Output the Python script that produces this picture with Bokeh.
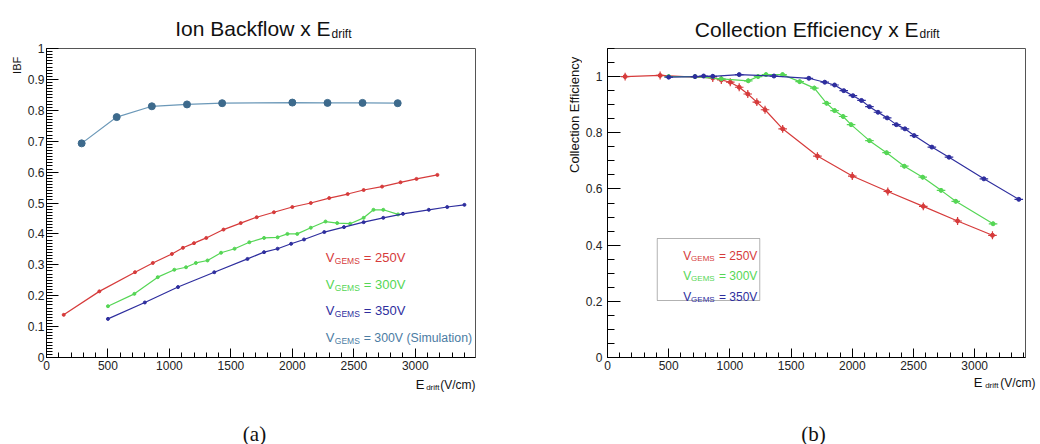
import math
from bokeh.plotting import figure
from bokeh.models import (Range1d, FixedTicker, Label, BoxAnnotation, ColumnDataSource,
                          CustomJSTickFormatter)
from bokeh.core.properties import value
from bokeh.layouts import row, column
from bokeh.embed import file_html
from bokeh.resources import INLINE

# ---------------- data: Ion Backflow (a) ----------------
ibf_250_x = [140, 430, 720, 865, 1020, 1110, 1200, 1300, 1440, 1580, 1710, 1850, 2000,
             2150, 2300, 2450, 2580, 2730, 2880, 3010, 3180]
ibf_250_y = [0.138, 0.214, 0.276, 0.306, 0.335, 0.355, 0.370, 0.387, 0.414, 0.435, 0.454,
             0.470, 0.487, 0.500, 0.516, 0.529, 0.542, 0.553, 0.567, 0.578, 0.591]
ibf_300_x = [500, 715, 905, 1040, 1135, 1215, 1310, 1420, 1530, 1650, 1770, 1880, 1960,
             2040, 2150, 2270, 2365, 2470, 2580, 2660, 2740, 2860]
ibf_300_y = [0.166, 0.206, 0.260, 0.284, 0.292, 0.306, 0.314, 0.339, 0.352, 0.373, 0.387,
             0.389, 0.400, 0.400, 0.420, 0.440, 0.435, 0.433, 0.452, 0.478, 0.478, 0.463]
ibf_350_x = [500, 800, 1070, 1365, 1635, 1770, 1880, 1990, 2095, 2260, 2420, 2580, 2740,
             2900, 3110, 3260, 3400]
ibf_350_y = [0.125, 0.178, 0.228, 0.276, 0.319, 0.341, 0.352, 0.368, 0.382, 0.406, 0.422,
             0.438, 0.452, 0.465, 0.478, 0.487, 0.494]
sim_x = [286, 571, 857, 1143, 1429, 2000, 2286, 2571, 2857]
sim_y = [0.693, 0.778, 0.813, 0.819, 0.823, 0.825, 0.824, 0.824, 0.823]

# ---------------- data: Collection Efficiency (b) ----------------
ce_250_x = [144, 430, 860, 930, 1003, 1076, 1146, 1220, 1287, 1431, 1715, 2000, 2290,
            2580, 2860, 3145]
ce_250_y = [1.000, 1.004, 0.995, 0.988, 0.980, 0.962, 0.938, 0.909, 0.882, 0.814, 0.717,
            0.646, 0.591, 0.538, 0.486, 0.435]
ce_300_x = [500, 715, 930, 1150, 1230, 1295, 1430, 1570, 1690, 1790, 1855, 1925, 1990,
            2140, 2280, 2425, 2575, 2725, 2845, 3150]
ce_300_y = [1.000, 1.000, 0.992, 0.985, 1.000, 1.007, 1.007, 0.982, 0.959, 0.905, 0.879,
            0.858, 0.829, 0.772, 0.729, 0.681, 0.642, 0.595, 0.556, 0.476]
ce_350_x = [500, 715, 785, 860, 1076, 1360, 1645, 1775, 1855, 1930, 2005, 2075, 2140,
            2210, 2285, 2360, 2430, 2505, 2650, 2790, 3075, 3360]
ce_350_y = [0.998, 1.000, 1.002, 1.001, 1.007, 1.002, 0.994, 0.980, 0.970, 0.950, 0.932,
            0.915, 0.893, 0.873, 0.853, 0.829, 0.814, 0.790, 0.749, 0.713, 0.636, 0.563]
ce_250_xerr, ce_250_yerr = 35, 0.014
ce_300_xerr, ce_300_yerr = 35, 0.008
ce_350_xerr, ce_350_yerr = 35, 0.006

legend_a = ["= 250V", "= 300V", "= 350V", "= 300V (Simulation)"]
legend_b = ["= 250V", "= 300V", "= 350V"]

RED, GREEN, BLUE, SIM = "#d63b3b", "#55d655", "#2e2e9e", "#4b7ca3"
SANS = "Liberation Sans"
SERIF = "Liberation Serif"

TOP_H, MAIN_H, BOT_H = 40, 335, 69   # 40 + 335 + 69 = 444


def main_fig(width, xmax, ymax, left, right, yticks, yminor, ymaj_len, ymin_len):
    p = figure(width=width, height=MAIN_H, x_range=Range1d(0, xmax),
               y_range=Range1d(0, ymax), output_backend="svg", toolbar_location=None,
               min_border_left=left, min_border_right=right, min_border_top=8,
               min_border_bottom=18)
    p.xgrid.visible = False
    p.ygrid.visible = False
    p.outline_line_color = "#555555"
    p.outline_line_width = 1
    p.background_fill_color = "white"
    p.border_fill_color = "white"
    fmt = CustomJSTickFormatter(code="return Number(tick.toFixed(2)).toString();")
    p.xaxis.ticker = FixedTicker(ticks=list(range(0, 3001, 500)),
                                 minor_ticks=list(range(0, int(xmax) + 1, 100)))
    p.yaxis.ticker = FixedTicker(ticks=yticks, minor_ticks=yminor)
    for ax in (p.xaxis[0], p.yaxis[0]):
        ax.formatter = fmt
        ax.axis_line_color = "black"
        ax.major_tick_line_color = "black"
        ax.minor_tick_line_color = "black"
        ax.major_tick_out = 0
        ax.minor_tick_out = 0
        ax.major_label_text_font = SANS
        ax.major_label_text_font_size = "12px"
        ax.major_label_text_color = "#222222"
    p.xaxis.major_tick_in = 9
    p.xaxis.minor_tick_in = 5
    p.yaxis.major_tick_in = ymaj_len
    p.yaxis.minor_tick_in = ymin_len
    p.xaxis.major_label_standoff = 3
    return p


def strip(w, h, x0, y0):
    """Blank figure whose ranges are page pixels (y downwards)."""
    p = figure(width=w, height=h, x_range=Range1d(x0, x0 + w), y_range=Range1d(y0 + h, y0),
               min_border=0, toolbar_location=None, output_backend="svg",
               x_axis_type=None, y_axis_type=None)
    p.outline_line_color = None
    p.background_fill_color = "white"
    p.border_fill_color = "white"
    return p


def txt(p, x, y, s, size, color="#111111", align="left", baseline="alphabetic",
        angle=0.0, font=SANS):
    p.text(x=[x], y=[y], text=[s], text_font=value(font), text_font_size=f"{size}px",
           text_color=color, text_align=align, text_baseline=baseline, angle=angle)


def lbl(p, x, y, text, size, color="#111111", align="left", baseline="alphabetic"):
    p.add_layout(Label(x=x, y=y, text=text, text_font_size=f"{size}px", text_color=color,
                       text_align=align, text_baseline=baseline, text_font=SANS))


# ================= panel (a) =================
AX_MAX, AY_MAX = 3490, 1.0
pa = main_fig(496, AX_MAX, AY_MAX, 21, 45,
              [round(i * 0.1, 1) for i in range(11)],
              [round(i * 0.01, 2) for i in range(101)], 12, 6)
pa.yaxis.major_label_standoff = 2


def ax_(px):
    return (px - 45) / 430 * AX_MAX


def ay_(py):
    return (357 - py) / 309 * AY_MAX


for xs, ys, c in [(ibf_250_x, ibf_250_y, RED), (ibf_300_x, ibf_300_y, GREEN),
                  (ibf_350_x, ibf_350_y, BLUE)]:
    pa.line(xs, ys, line_color=c, line_width=1.2)
    pa.scatter(xs, ys, size=3, color=c)
pa.line(sim_x, sim_y, line_color="#6b98b8", line_width=1.2)
pa.scatter(sim_x, sim_y, size=7, fill_color="#3d6a8c", line_color="#3d6a8c")

for t, c, r, fs in zip(legend_a, [RED, GREEN, BLUE, SIM], [257, 284, 310, 337],
                       [13, 13, 13, 12.3]):
    lbl(pa, ax_(325), ay_(r), "V", 13, color=c)
    lbl(pa, ax_(334), ay_(r + 3), "GEMS", 8.5, color=c)
    lbl(pa, ax_(363), ay_(r), t, fs, color=c)

ta = strip(520, TOP_H, 0, 0)
txt(ta, 330, 28, "Ion Backflow x E", 21, align="right")
txt(ta, 331, 33, "drift", 12)

ya = strip(24, MAIN_H, 0, TOP_H)
txt(ya, 16, 49, "IBF", 11, align="right", baseline="middle", angle=math.pi / 2)

ba = strip(520, BOT_H, 0, TOP_H + MAIN_H)
txt(ba, 475, 384, "(V/cm)", 12, align="right")
txt(ba, 439, 387, "drift", 8, align="right")
txt(ba, 424, 384, "E", 13, align="right")
txt(ba, 254, 433, "(a)", 21, align="center", font=SERIF)

panel_a = column(ta, row(ya, pa), ba)

# ================= panel (b) =================
BX_MAX, BY_MAX = 3415, 1.1
pb = main_fig(458, BX_MAX, BY_MAX, 23, 15,
              [round(i * 0.2, 1) for i in range(6)],
              [round(i * 0.05, 2) for i in range(23)], 13, 7)
pb.yaxis.major_label_standoff = 5


def bx_(px):
    return (px - 605) / 420 * BX_MAX


def by_(py):
    return (357 - py) / 309 * BY_MAX


for xs, ys, ex, ey, c in [(ce_250_x, ce_250_y, ce_250_xerr, ce_250_yerr, RED),
                          (ce_300_x, ce_300_y, ce_300_xerr, ce_300_yerr, GREEN),
                          (ce_350_x, ce_350_y, ce_350_xerr, ce_350_yerr, BLUE)]:
    src = ColumnDataSource(dict(
        x=xs, y=ys,
        x0=[v - ex for v in xs], x1=[v + ex for v in xs],
        y0=[v - ey for v in ys], y1=[v + ey for v in ys]))
    pb.line("x", "y", source=src, line_color=c, line_width=1.2)
    pb.segment(x0="x0", y0="y", x1="x1", y1="y", source=src, line_color=c, line_width=1.2)
    pb.segment(x0="x", y0="y0", x1="x", y1="y1", source=src, line_color=c, line_width=1.2)
    pb.scatter("x", "y", source=src, size=4, color=c)

pb.add_layout(BoxAnnotation(left=bx_(655), right=bx_(758), top=by_(238), bottom=by_(300),
                            fill_color="white", fill_alpha=1.0, line_color="black",
                            line_width=1))
for t, c, r in zip(legend_b, [RED, GREEN, BLUE], [255, 275, 296]):
    lbl(pb, bx_(681), by_(r), "V", 12, color=c)
    lbl(pb, bx_(689), by_(r + 3), "GEMS", 8, color=c)
    lbl(pb, bx_(717), by_(r), t, 12, color=c)

tb = strip(520, TOP_H, 520, 0)
txt(tb, 918, 29, "Collection Efficiency x E", 21, align="right")
txt(tb, 919, 33, "drift", 12)

yb = strip(62, MAIN_H, 520, TOP_H)
txt(yb, 574, 49, "Collection Efficiency", 13, align="right", baseline="middle",
    angle=math.pi / 2)

bb = strip(520, BOT_H, 520, TOP_H + MAIN_H)
txt(bb, 1035, 382, "(V/cm)", 12, align="right")
txt(bb, 998, 385, "drift", 8, align="right")
txt(bb, 982, 382, "E", 13, align="right")
txt(bb, 813, 433, "(b)", 21, align="center", font=SERIF)

panel_b = column(tb, row(yb, pb), bb)

layout = row(panel_a, panel_b)
open("out.html", "w").write(file_html(layout, INLINE))
